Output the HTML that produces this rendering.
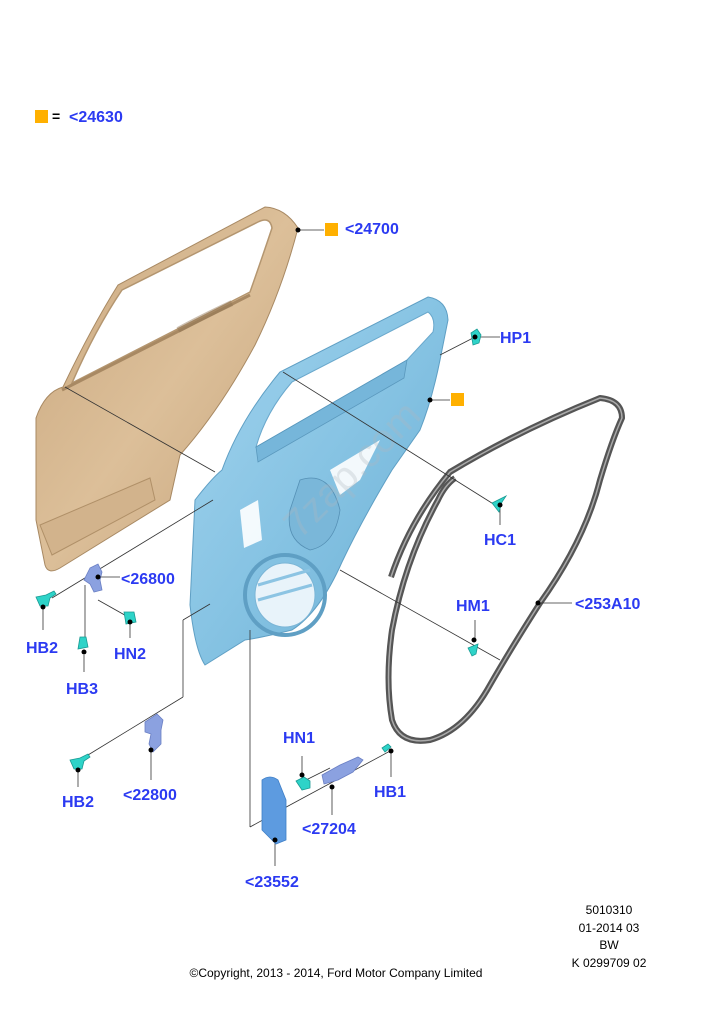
<!DOCTYPE html>
<html><head><meta charset="utf-8"><style>
html,body{margin:0;padding:0;background:#fff;}
svg{display:block}
.l{font-family:"Liberation Sans",sans-serif;font-weight:bold;font-size:16px;fill:#2b3af2}
.s{font-family:"Liberation Sans",sans-serif;font-size:12px;fill:#000}
.ln{stroke:#333;stroke-width:0.8;fill:none}
</style></head><body>
<svg width="721" height="1023" viewBox="0 0 721 1023" xmlns="http://www.w3.org/2000/svg">
<defs>
<linearGradient id="tan" x1="0" y1="0" x2="1" y2="1">
<stop offset="0" stop-color="#c9a77e"/><stop offset="0.5" stop-color="#dcbf99"/><stop offset="1" stop-color="#c4a27a"/></linearGradient>
<linearGradient id="blu" x1="0" y1="0" x2="1" y2="1">
<stop offset="0" stop-color="#a3d4ee"/><stop offset="0.5" stop-color="#86c3e3"/><stop offset="1" stop-color="#6aaed3"/></linearGradient>
</defs>
<rect x="35" y="110" width="13" height="13" fill="#ffb000"/>
<text x="52" y="121" class="s" style="font-weight:bold;font-size:14px">=</text>
<text x="69" y="122" class="l">&lt;24630</text>

<!-- outer door panel -->
<path d="M265,207 Q285,208 298,228 Q282,290 255,345 Q220,410 180,455 L170,500 L60,568 Q48,575 45,565 L36,520 L36,418 Q45,392 63,387 Q90,330 118,285 Z" fill="url(#tan)" stroke="#a88963" stroke-width="1"/>
<path d="M122,290 L258,222 Q270,216 272,228 Q262,258 250,292 L72,383 Q95,330 122,290 Z" fill="#fff" stroke="#b49670" stroke-width="1.5"/>
<path d="M62,390 L250,295" stroke="#a88963" stroke-width="3"/>
<path d="M178,330 Q200,318 232,303" stroke="#8f7352" stroke-width="6" opacity="0.45"/>
<path d="M40,525 L150,478 L155,500 L52,555 Z" fill="#d2b38c" stroke="#b09068" stroke-width="1"/>

<!-- inner panel -->
<path d="M428,297 Q447,300 448,320 L440,360 Q432,400 420,430 L392,470 Q362,520 342,562 Q320,612 292,630 Q260,638 245,640 L205,665 Q195,650 190,605 L195,500 Q212,478 222,470 Q240,420 280,372 Z" fill="url(#blu)" stroke="#5f9fc4" stroke-width="1"/>
<path d="M292,382 L428,312 Q436,318 433,332 L407,360 L256,447 Q266,412 292,382 Z" fill="#fff" stroke="#6aa8cc" stroke-width="1"/>
<path d="M256,447 L407,360 L404,378 L258,462 Z" fill="#76b6da" stroke="#5a98bd" stroke-width="0.8"/>
<path d="M240,510 L258,500 L262,540 L244,548 Z" fill="#fff" opacity="0.9"/>
<path d="M330,470 L380,440 L360,480 L340,495 Z" fill="#fff" opacity="0.9"/>
<path d="M300,480 Q330,470 340,510 Q335,545 310,550 Q285,540 290,510 Z" fill="#7ab7d9" stroke="#5590b5" stroke-width="0.8"/>
<circle cx="285" cy="595" r="40" fill="none" stroke="#5f9fc4" stroke-width="4"/>
<ellipse cx="285" cy="595" rx="30" ry="32" fill="#e8f3fa" stroke="#7bb5d6"/>
<path d="M258,585 L310,570 M258,600 L312,585" stroke="#8cc4e3" stroke-width="3"/>
<text x="300" y="540" transform="rotate(-45 300 540)" style="font-family:'Liberation Sans',sans-serif;font-size:40px;fill:#b0b8c0;opacity:0.3">7zap.com</text>

<!-- seal -->
<path d="M391,577 Q410,520 450,472 Q520,430 600,398 Q622,400 622,418 Q612,440 600,480 Q585,540 540,603 Q510,650 490,685 Q465,730 430,740 Q400,745 392,720 Q385,680 392,630 Q405,560 438,500 Q445,485 455,478" fill="none" stroke="#555" stroke-width="6" stroke-linejoin="round"/>
<path d="M391,577 Q410,520 450,472 Q520,430 600,398 Q622,400 622,418 Q612,440 600,480 Q585,540 540,603 Q510,650 490,685 Q465,730 430,740 Q400,745 392,720 Q385,680 392,630 Q405,560 438,500 Q445,485 455,478" fill="none" stroke="#aaa" stroke-width="1.5"/>

<g class="ln">
<line x1="298" y1="230" x2="324" y2="230"/>
<line x1="65" y1="387" x2="215" y2="472"/>
<line x1="283" y1="372" x2="495" y2="505"/>
<line x1="440" y1="355" x2="475" y2="337"/>
<line x1="475" y1="337" x2="500" y2="337"/>
<line x1="430" y1="400" x2="450" y2="400"/>
<line x1="340" y1="570" x2="500" y2="660"/>
<line x1="475" y1="640" x2="475" y2="620"/>
<line x1="538" y1="603" x2="572" y2="603"/>
<line x1="500" y1="505" x2="500" y2="525"/>
<line x1="213" y1="500" x2="52" y2="598"/>
<line x1="98" y1="577" x2="120" y2="577"/>
<line x1="85" y1="585" x2="85" y2="645"/>
<line x1="98" y1="600" x2="130" y2="618"/>
<line x1="130" y1="618" x2="130" y2="638"/>
<line x1="43" y1="607" x2="43" y2="630"/>
<line x1="84" y1="655" x2="84" y2="672"/>
<line x1="210" y1="604" x2="183" y2="620"/>
<line x1="183" y1="620" x2="183" y2="697"/>
<line x1="183" y1="697" x2="88" y2="755"/>
<line x1="78" y1="770" x2="78" y2="787"/>
<line x1="151" y1="750" x2="151" y2="780"/>
<line x1="250" y1="630" x2="250" y2="827"/>
<line x1="250" y1="827" x2="290" y2="805"/>
<line x1="290" y1="805" x2="392" y2="750"/>
<line x1="302" y1="782" x2="330" y2="768"/>
<line x1="302" y1="756" x2="302" y2="775"/>
<line x1="332" y1="787" x2="332" y2="815"/>
<line x1="391" y1="750" x2="391" y2="777"/>
<line x1="275" y1="840" x2="275" y2="866"/>
</g>

<g fill="#2ed3c8" stroke="#1a9a93" stroke-width="0.8">
<path d="M471,333 l6,-4 l4,6 l-2,8 l-6,2 z"/>
<path d="M492,503 l14,-7 l-4,6 l-3,10 z"/>
<path d="M468,648 l10,-4 l-2,10 l-4,2 z"/>
<path d="M36,597 l10,-2 l8,-4 l2,3 l-6,4 l-2,8 l-8,0 z"/>
<path d="M80,637 l6,0 l2,10 l-10,2 z"/>
<path d="M124,612 l10,0 l2,10 l-10,2 z"/>
<path d="M70,760 l10,-2 l8,-4 l2,3 l-6,4 l-2,8 l-8,0 z"/>
<path d="M296,781 l8,-4 l6,4 l0,7 l-8,2 z"/>
<path d="M382,748 l6,-4 l3,3 l-6,5 z"/>
</g>
<g fill="#8ba1e0" stroke="#6a7fc4" stroke-width="0.8">
<path d="M90,568 l8,-4 l4,8 l-2,8 l2,10 l-8,2 l-4,-8 l-6,-4 z"/>
<path d="M145,722 l12,-8 l6,6 l-2,10 l0,14 l-8,8 l-4,-8 l2,-10 l-6,-2 z"/>
<path d="M322,775 l18,-10 l18,-8 l5,3 l-10,12 l-15,8 l-14,4 z"/>
</g>
<path d="M262,780 q8,-6 16,0 l8,20 l0,40 l-10,4 l-14,-14 z" fill="#5d9be0" stroke="#3f7fc7" stroke-width="0.8"/>

<g fill="#000">
<circle cx="298" cy="230" r="2.5"/><circle cx="475" cy="337" r="2.5"/><circle cx="430" cy="400" r="2.5"/>
<circle cx="500" cy="505" r="2.5"/><circle cx="474" cy="640" r="2.5"/><circle cx="538" cy="603" r="2.5"/>
<circle cx="98" cy="577" r="2.5"/><circle cx="43" cy="607" r="2.5"/><circle cx="84" cy="652" r="2.5"/>
<circle cx="130" cy="622" r="2.5"/><circle cx="78" cy="770" r="2.5"/><circle cx="151" cy="750" r="2.5"/>
<circle cx="302" cy="775" r="2.5"/><circle cx="332" cy="787" r="2.5"/><circle cx="391" cy="751" r="2.5"/>
<circle cx="275" cy="840" r="2.5"/>
</g>

<rect x="325" y="223" width="13" height="13" fill="#ffb000"/>
<rect x="451" y="393" width="13" height="13" fill="#ffb000"/>

<text x="345" y="234" class="l">&lt;24700</text>
<text x="500" y="343" class="l">HP1</text>
<text x="484" y="545" class="l">HC1</text>
<text x="456" y="611" class="l">HM1</text>
<text x="575" y="609" class="l">&lt;253A10</text>
<text x="121" y="584" class="l">&lt;26800</text>
<text x="26" y="653" class="l">HB2</text>
<text x="114" y="659" class="l">HN2</text>
<text x="66" y="694" class="l">HB3</text>
<text x="62" y="807" class="l">HB2</text>
<text x="123" y="800" class="l">&lt;22800</text>
<text x="283" y="743" class="l">HN1</text>
<text x="374" y="797" class="l">HB1</text>
<text x="302" y="834" class="l">&lt;27204</text>
<text x="245" y="887" class="l">&lt;23552</text>

<g class="s" text-anchor="middle">
<text x="609" y="914">5010310</text>
<text x="609" y="932">01-2014 03</text>
<text x="609" y="949">BW</text>
<text x="609" y="967">K 0299709 02</text>
</g>
<text x="336" y="977" class="s" text-anchor="middle">©Copyright, 2013 - 2014, Ford Motor Company Limited</text>
</svg>
</body></html>
